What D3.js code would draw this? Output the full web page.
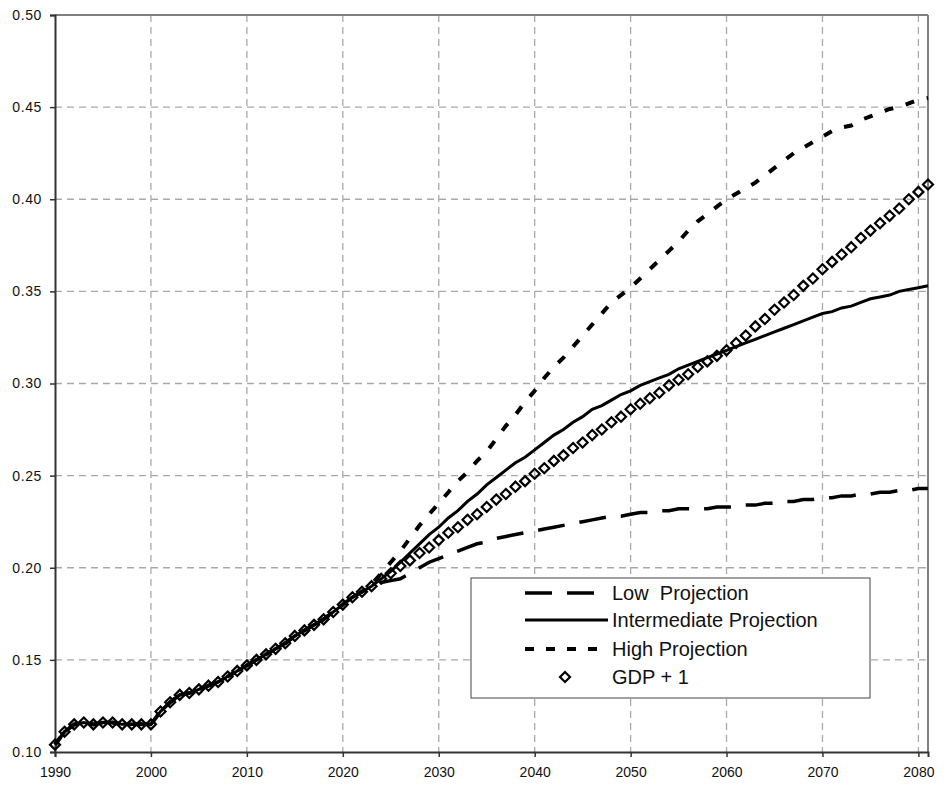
<!DOCTYPE html>
<html>
<head>
<meta charset="utf-8">
<script src="https://cdn.jsdelivr.net/npm/d3@7"></script>
<style>
  body { margin: 0; background: #fff; }
  svg { font-family: Arial, "Liberation Sans", sans-serif; }
</style>
</head>
<body>
<script>
// years 1990..2081, values
var years = d3.range(1990, 2082);

// shared history 1990-2022
var histValues = [0.104, 0.111, 0.115, 0.116, 0.115, 0.116, 0.116, 0.115, 0.115, 0.115,
  0.115, 0.122, 0.127, 0.131, 0.132, 0.134, 0.136, 0.138, 0.141, 0.144,
  0.147, 0.150, 0.153, 0.156, 0.159, 0.163, 0.166, 0.169, 0.172, 0.176,
  0.180, 0.184, 0.187];

// projections 2023-2081
var lowProj = [0.189, 0.192, 0.193, 0.194, 0.197, 0.200, 0.203, 0.205,
  0.207, 0.209, 0.211, 0.213, 0.214, 0.216, 0.217, 0.218, 0.219, 0.220,
  0.221, 0.222, 0.223, 0.224, 0.225, 0.226, 0.227, 0.228, 0.228, 0.229,
  0.230, 0.230, 0.231, 0.231, 0.232, 0.232, 0.232, 0.232, 0.233, 0.233,
  0.233, 0.234, 0.234, 0.235, 0.235, 0.236, 0.236, 0.237, 0.237, 0.238,
  0.238, 0.239, 0.239, 0.240, 0.240, 0.241, 0.241, 0.242, 0.242, 0.243, 0.243];

var interProj = [0.190, 0.194, 0.198, 0.203, 0.208, 0.213, 0.218, 0.222,
  0.227, 0.231, 0.236, 0.240, 0.245, 0.249, 0.253, 0.257, 0.260, 0.264,
  0.268, 0.272, 0.275, 0.279, 0.282, 0.286, 0.288, 0.291, 0.294, 0.296,
  0.299, 0.301, 0.303, 0.305, 0.308, 0.310, 0.312, 0.314, 0.316, 0.318,
  0.320, 0.322, 0.324, 0.326, 0.328, 0.330, 0.332, 0.334, 0.336, 0.338,
  0.339, 0.341, 0.342, 0.344, 0.346, 0.347, 0.348, 0.350, 0.351, 0.352, 0.353];

var highProj = [0.191, 0.197, 0.203, 0.209, 0.216, 0.223, 0.229, 0.235,
  0.241, 0.247, 0.252, 0.258, 0.263, 0.270, 0.277, 0.283, 0.290, 0.296,
  0.303, 0.309, 0.314, 0.320, 0.326, 0.332, 0.338, 0.344, 0.348, 0.352,
  0.357, 0.362, 0.367, 0.372, 0.377, 0.383, 0.388, 0.392, 0.396, 0.400,
  0.403, 0.406, 0.409, 0.413, 0.417, 0.421, 0.425, 0.428, 0.431, 0.434,
  0.437, 0.439, 0.440, 0.443, 0.445, 0.447, 0.449, 0.450, 0.452, 0.454, 0.455];

var gdpProj = [0.190, 0.194, 0.197, 0.201, 0.204, 0.208, 0.211, 0.215,
  0.219, 0.222, 0.226, 0.229, 0.233, 0.237, 0.240, 0.244, 0.247, 0.251,
  0.254, 0.258, 0.261, 0.265, 0.268, 0.272, 0.275, 0.279, 0.282, 0.286,
  0.289, 0.292, 0.295, 0.299, 0.302, 0.305, 0.309, 0.312, 0.315, 0.318,
  0.322, 0.326, 0.331, 0.335, 0.340, 0.344, 0.348, 0.353, 0.357, 0.362,
  0.366, 0.370, 0.374, 0.379, 0.383, 0.387, 0.391, 0.395, 0.400, 0.404, 0.408];

var xTicks = [1990, 2000, 2010, 2020, 2030, 2040, 2050, 2060, 2070, 2080];
var yTicks = [0.10, 0.15, 0.20, 0.25, 0.30, 0.35, 0.40, 0.45, 0.50];
var legendLabels = ["Low\u00a0 Projection", "Intermediate Projection", "High Projection", "GDP + 1"];

function toPoints(proj) {
  return histValues.concat(proj).map(function (v, i) { return { year: years[i], value: v }; });
}
var lowData = toPoints(lowProj),
    interData = toPoints(interProj),
    highData = toPoints(highProj),
    gdpData = toPoints(gdpProj);

var margin = { top: 15, right: 20, bottom: 35, left: 55 },
    W = 948, H = 787,
    width = W - margin.left - margin.right,
    height = H - margin.top - margin.bottom;

var svg = d3.select("body").append("svg")
    .attr("width", W)
    .attr("height", H);

var g = svg.append("g")
    .attr("transform", "translate(" + margin.left + "," + margin.top + ")");

var x = d3.scaleLinear().domain([1990, 2081]).range([0, width]);
var y = d3.scaleLinear().domain([0.10, 0.50]).range([height, 0]);

// grid
g.selectAll(".hgrid")
    .data(yTicks.filter(function (d) { return d > 0.1 && d < 0.5; }))
    .enter().append("line")
    .attr("x1", 0).attr("x2", width)
    .attr("y1", function (d) { return y(d); })
    .attr("y2", function (d) { return y(d); })
    .attr("stroke", "#a9a9a9").attr("stroke-width", 1.3)
    .attr("stroke-dasharray", "7,5");

g.selectAll(".vgrid")
    .data(xTicks.filter(function (d) { return d > 1990; }))
    .enter().append("line")
    .attr("y1", 0).attr("y2", height)
    .attr("x1", function (d) { return x(d); })
    .attr("x2", function (d) { return x(d); })
    .attr("stroke", "#a9a9a9").attr("stroke-width", 1.3)
    .attr("stroke-dasharray", "7,5");

// top / right border
g.append("line").attr("x1", 0).attr("x2", width).attr("y1", 0).attr("y2", 0)
    .attr("stroke", "#7f7f7f").attr("stroke-width", 2);
g.append("line").attr("x1", width).attr("x2", width).attr("y1", 0).attr("y2", height)
    .attr("stroke", "#7f7f7f").attr("stroke-width", 2);

// axes
var yAxis = g.append("g")
    .call(d3.axisLeft(y).tickValues(yTicks).tickFormat(d3.format(".2f")).tickSize(5).tickPadding(8));
var xAxis = g.append("g")
    .attr("transform", "translate(0," + height + ")")
    .call(d3.axisBottom(x).tickValues(xTicks).tickFormat(d3.format("d")).tickSize(5).tickPadding(10));

[xAxis, yAxis].forEach(function (a) {
  a.select(".domain").attr("stroke", "#333").attr("stroke-width", 2);
  a.selectAll(".tick line").attr("stroke", "#333").attr("stroke-width", 1.5);
  a.selectAll("text").attr("fill", "#111").style("font-size", "14px");
});
yAxis.selectAll("text").style("letter-spacing", "0.6px");

var line = d3.line()
    .x(function (d) { return x(d.year); })
    .y(function (d) { return y(d.value); });

g.append("path").datum(lowData)
    .attr("d", line).attr("fill", "none")
    .attr("stroke", "#000").attr("stroke-width", 3.5)
    .attr("stroke-dasharray", "27,15");

g.append("path").datum(highData)
    .attr("d", line).attr("fill", "none")
    .attr("stroke", "#000").attr("stroke-width", 4)
    .attr("stroke-dasharray", "9,13");

g.append("path").datum(interData)
    .attr("d", line).attr("fill", "none")
    .attr("stroke", "#000").attr("stroke-width", 3);

var diamond = "M0,-5L5,0L0,5L-5,0Z";

g.selectAll(".gdp")
    .data(gdpData)
    .enter().append("path")
    .attr("class", "gdp")
    .attr("d", diamond)
    .attr("transform", function (d) { return "translate(" + x(d.year) + "," + y(d.value) + ")"; })
    .attr("fill", "none")
    .attr("stroke", "#000").attr("stroke-width", 2.2);

// legend
var legend = svg.append("g").attr("transform", "translate(471,578)");
legend.append("rect")
    .attr("width", 399).attr("height", 120)
    .attr("fill", "#fff").attr("stroke", "#444").attr("stroke-width", 1);

var rowY = [15, 42, 71, 99];
var styles = [
  { dash: "27,15", w: 3.5 },
  { dash: null, w: 3 },
  { dash: "9,12", w: 4 },
  null
];

legendLabels.forEach(function (label, i) {
  var row = legend.append("g").attr("transform", "translate(0," + rowY[i] + ")");
  if (styles[i]) {
    row.append("line")
      .attr("x1", 54).attr("x2", 137).attr("y1", 0).attr("y2", 0)
      .attr("stroke", "#000").attr("stroke-width", styles[i].w)
      .attr("stroke-dasharray", styles[i].dash);
  } else {
    row.append("path").attr("d", diamond)
      .attr("transform", "translate(94,0)")
      .attr("fill", "none").attr("stroke", "#000").attr("stroke-width", 2.2);
  }
  row.append("text")
    .attr("x", 141).attr("y", 7)
    .style("font-size", "20px")
    .attr("fill", "#111")
    .text(label);
});
</script>
</body>
</html>
